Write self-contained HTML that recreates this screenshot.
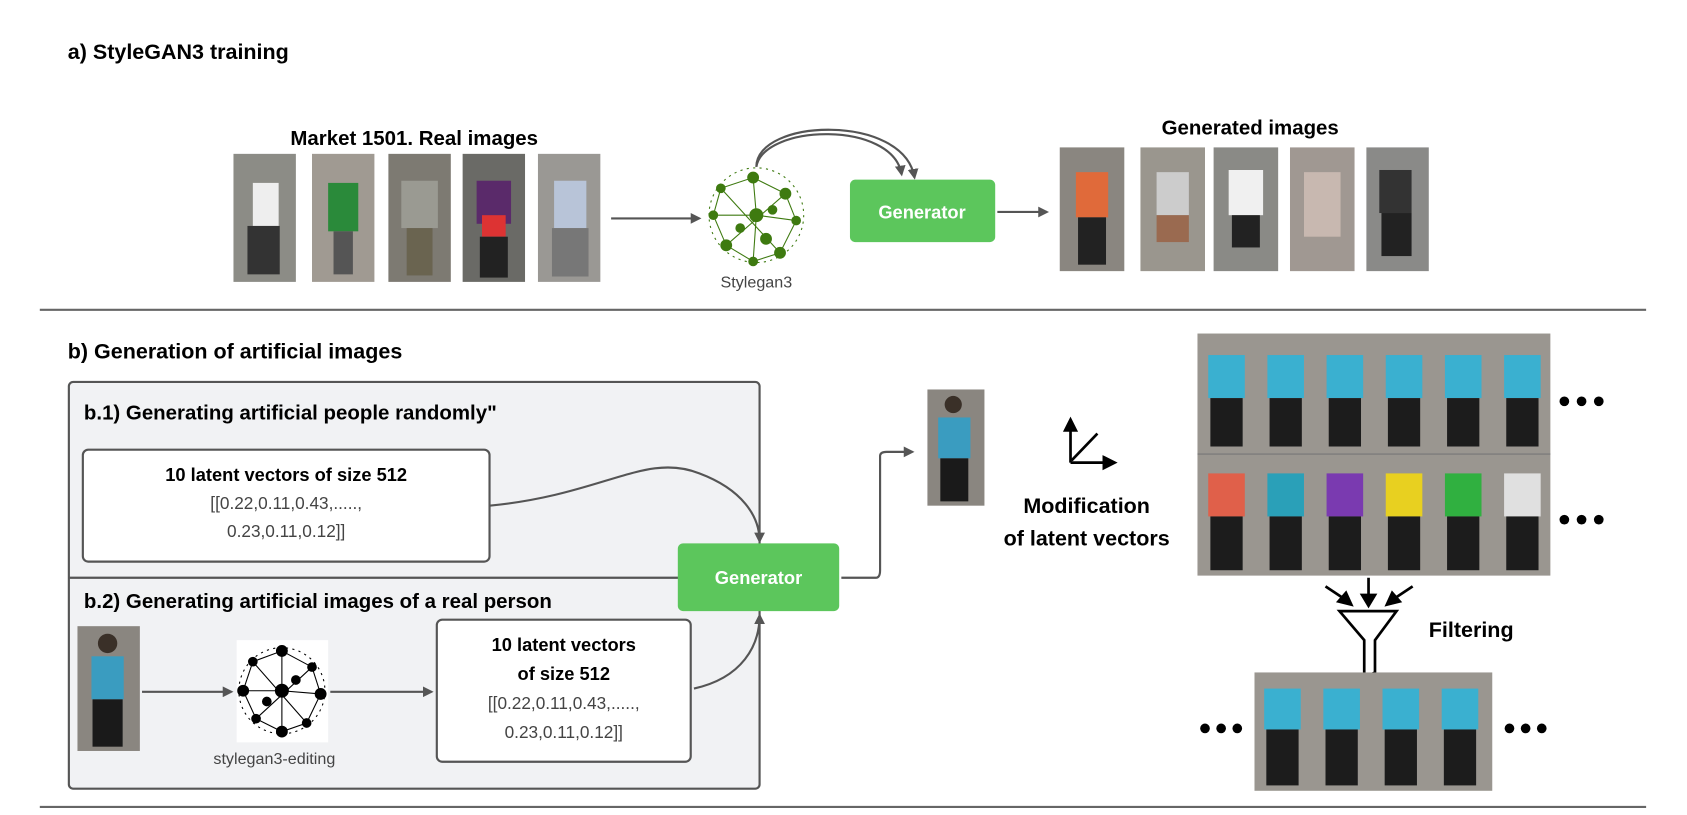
<!DOCTYPE html>
<html><head><meta charset="utf-8"><style>
html,body{margin:0;padding:0;background:#fff;}
svg{display:block;}
text{font-family:"Liberation Sans",sans-serif;}
.b{font-weight:bold;}
</style></head><body>
<svg width="1687" height="815" viewBox="0 0 1568 757.5" preserveAspectRatio="none" xmlns="http://www.w3.org/2000/svg">
<defs>
<marker id="ar" markerWidth="10" markerHeight="10" refX="8" refY="5" orient="auto" markerUnits="userSpaceOnUse"><path d="M0,0 L10,5 L0,10 z" fill="#555"/></marker>
<g id="p">
<rect x="0" y="0" width="58" height="118" fill="#9a9690"/>
<rect x="16" y="30" width="26" height="38" fill="VAR"/>
<circle cx="29" cy="20" r="9" fill="#3a3028"/>
<rect x="18" y="68" width="9" height="44" fill="#222"/>
<rect x="31" y="68" width="9" height="44" fill="#222"/>
</g>
</defs>
<rect width="1568" height="758" fill="#fff"/>
<text x="63" y="55" class="b" font-size="20">a) StyleGAN3 training</text>
<text x="385" y="135" class="b" font-size="19" text-anchor="middle">Market 1501. Real images</text>
<g>
<rect x="217" y="143" width="58" height="119" fill="#8c8c86"/><rect x="235" y="170" width="24" height="40" fill="#eee"/><rect x="230" y="210" width="30" height="45" fill="#333"/>
<rect x="290" y="143" width="58" height="119" fill="#a09a92"/><rect x="305" y="170" width="28" height="45" fill="#2a8a3a"/><rect x="310" y="215" width="18" height="40" fill="#555"/>
<rect x="361" y="143" width="58" height="119" fill="#7d7a72"/><rect x="373" y="168" width="34" height="44" fill="#9a9a92"/><rect x="378" y="212" width="24" height="44" fill="#6a6450"/>
<rect x="430" y="143" width="58" height="119" fill="#6a6a66"/><rect x="443" y="168" width="32" height="40" fill="#5a2a6a"/><rect x="448" y="200" width="22" height="20" fill="#d33"/><rect x="446" y="220" width="26" height="38" fill="#222"/>
<rect x="500" y="143" width="58" height="119" fill="#9a9894"/><rect x="515" y="168" width="30" height="44" fill="#b8c4d8"/><rect x="513" y="212" width="34" height="45" fill="#777"/>
</g>
<line x1="568" y1="203" x2="650" y2="203" stroke="#555" stroke-width="2" marker-end="url(#ar)"/>
<g fill="#3e7a10" stroke="#3e7a10" stroke-width="1">
<circle cx="703" cy="200" r="44" fill="none" stroke-dasharray="2 4"/>
<path d="M670,175 L700,165 L730,180 L740,205 L725,235 L700,243 L675,228 L663,200 Z M700,165 L703,200 L740,205 M663,200 L703,200 L700,243 M670,175 L725,235 M730,180 L675,228" fill="none"/>
<circle cx="700" cy="165" r="5"/><circle cx="730" cy="180" r="5"/><circle cx="740" cy="205" r="4"/><circle cx="725" cy="235" r="5"/><circle cx="700" cy="243" r="4"/><circle cx="675" cy="228" r="5"/><circle cx="663" cy="200" r="4"/><circle cx="670" cy="175" r="4"/><circle cx="703" cy="200" r="6"/><circle cx="718" cy="195" r="4"/><circle cx="688" cy="212" r="4"/><circle cx="712" cy="222" r="5"/>
</g>
<text x="703" y="267" font-size="15" fill="#444" text-anchor="middle">Stylegan3</text>
<path d="M703,155 C703,110 840,105 850,165" fill="none" stroke="#555" stroke-width="2" marker-end="url(#ar)"/>
<path d="M703,155 C710,115 830,112 838,162" fill="none" stroke="#555" stroke-width="2" marker-end="url(#ar)"/>
<rect x="790" y="167" width="135" height="58" rx="5" fill="#5cc65c"/>
<text x="857" y="203" class="b" font-size="17" fill="#fff" text-anchor="middle">Generator</text>
<line x1="927" y1="197" x2="973" y2="197" stroke="#555" stroke-width="2" marker-end="url(#ar)"/>
<text x="1162" y="125" class="b" font-size="19" text-anchor="middle">Generated images</text>
<g>
<rect x="985" y="137" width="60" height="115" fill="#8a8680"/><rect x="1000" y="160" width="30" height="42" fill="#e06a3a"/><rect x="1002" y="202" width="26" height="44" fill="#222"/>
<rect x="1060" y="137" width="60" height="115" fill="#9a968e"/><rect x="1075" y="160" width="30" height="40" fill="#ccc"/><rect x="1075" y="200" width="30" height="25" fill="#9a6a50"/>
<rect x="1128" y="137" width="60" height="115" fill="#8a8a86"/><rect x="1142" y="158" width="32" height="42" fill="#f0f0f0"/><rect x="1145" y="200" width="26" height="30" fill="#222"/>
<rect x="1199" y="137" width="60" height="115" fill="#a09892"/><rect x="1212" y="160" width="34" height="60" fill="#c8b8b0"/>
<rect x="1270" y="137" width="58" height="115" fill="#8a8a88"/><rect x="1282" y="158" width="30" height="40" fill="#333"/><rect x="1284" y="198" width="28" height="40" fill="#222"/>
</g>
<line x1="37" y1="288" x2="1530" y2="288" stroke="#666" stroke-width="2"/>
<text x="63" y="333" class="b" font-size="20">b) Generation of artificial images</text>
<rect x="64" y="355" width="642" height="378" rx="4" fill="#f1f2f4" stroke="#555" stroke-width="2"/>
<line x1="64" y1="537" x2="706" y2="537" stroke="#555" stroke-width="2"/>
<text x="78" y="390" class="b" font-size="19">b.1) Generating artificial people randomly"</text>
<rect x="77" y="418" width="378" height="104" rx="5" fill="#fff" stroke="#555" stroke-width="2"/>
<text x="266" y="447" class="b" font-size="17" text-anchor="middle">10 latent vectors of size 512</text>
<text x="266" y="473" font-size="16" fill="#444" text-anchor="middle">[[0.22,0.11,0.43,.....,</text>
<text x="266" y="499" font-size="16" fill="#444" text-anchor="middle">0.23,0.11,0.12]]</text>
<path d="M455,470 C560,460 600,420 650,440 C690,455 706,480 706,503" fill="none" stroke="#555" stroke-width="2" marker-end="url(#ar)"/>
<text x="78" y="565" class="b" font-size="19">b.2) Generating artificial images of a real person</text>
<rect x="630" y="505" width="150" height="63" rx="5" fill="#5cc65c"/>
<text x="705" y="543" class="b" font-size="17" fill="#fff" text-anchor="middle">Generator</text>
<rect x="72" y="582" width="58" height="116" fill="#8a8680"/><rect x="85" y="610" width="30" height="40" fill="#3a9cc0"/><rect x="86" y="650" width="28" height="44" fill="#1a1a1a"/><circle cx="100" cy="598" r="9" fill="#3a3028"/>
<line x1="132" y1="643" x2="215" y2="643" stroke="#555" stroke-width="2" marker-end="url(#ar)"/>
<rect x="220" y="595" width="85" height="95" fill="#fff"/>
<g fill="#000" stroke="#000" stroke-width="1">
<circle cx="262" cy="642" r="40" fill="none" stroke-dasharray="2 4"/>
<path d="M235,615 L262,605 L290,620 L298,645 L285,672 L262,680 L238,668 L226,642 Z M262,605 L262,642 L298,645 M226,642 L262,642 L262,680 M235,615 L285,672 M290,620 L238,668" fill="none"/>
<circle cx="262" cy="605" r="5"/><circle cx="290" cy="620" r="4"/><circle cx="298" cy="645" r="5"/><circle cx="285" cy="672" r="4"/><circle cx="262" cy="680" r="5"/><circle cx="238" cy="668" r="4"/><circle cx="226" cy="642" r="5"/><circle cx="235" cy="615" r="4"/><circle cx="262" cy="642" r="6"/><circle cx="275" cy="632" r="4"/><circle cx="248" cy="652" r="4"/>
</g>
<text x="255" y="710" font-size="15" fill="#444" text-anchor="middle">stylegan3-editing</text>
<line x1="307" y1="643" x2="401" y2="643" stroke="#555" stroke-width="2" marker-end="url(#ar)"/>
<rect x="406" y="576" width="236" height="132" rx="5" fill="#fff" stroke="#555" stroke-width="2"/>
<text x="524" y="605" class="b" font-size="17" text-anchor="middle">10 latent vectors</text>
<text x="524" y="632" class="b" font-size="17" text-anchor="middle">of size 512</text>
<text x="524" y="659" font-size="16" fill="#444" text-anchor="middle">[[0.22,0.11,0.43,.....,</text>
<text x="524" y="686" font-size="16" fill="#444" text-anchor="middle">0.23,0.11,0.12]]</text>
<path d="M645,640 C690,630 706,600 706,572" fill="none" stroke="#555" stroke-width="2" marker-end="url(#ar)"/>
<path d="M782,537 L814,537 Q818,537 818,530 L818,424 Q818,420 824,420 L848,420" fill="none" stroke="#555" stroke-width="2" marker-end="url(#ar)"/>
<rect x="862" y="362" width="53" height="108" fill="#8a8680"/><rect x="872" y="388" width="30" height="38" fill="#3a9cc0"/><rect x="874" y="426" width="26" height="40" fill="#1a1a1a"/><circle cx="886" cy="376" r="8" fill="#3a3028"/>
<g stroke="#000" stroke-width="2.5" fill="#000">
<line x1="995" y1="398" x2="995" y2="430"/><path d="M990,400 L995,390 L1000,400 z"/>
<line x1="995" y1="430" x2="1028" y2="430"/><path d="M1026,425 L1036,430 L1026,435 z"/>
<line x1="996" y1="428" x2="1020" y2="403"/>
</g>
<text x="1010" y="477" class="b" font-size="20" text-anchor="middle">Modification</text>
<text x="1010" y="507" class="b" font-size="20" text-anchor="middle">of latent vectors</text>
<rect x="1113" y="310" width="328" height="225" fill="#9a9690"/>
<g>
<rect x="1123" y="330" width="34" height="40" fill="#3ab0d0"/><rect x="1178" y="330" width="34" height="40" fill="#3ab0d0"/><rect x="1233" y="330" width="34" height="40" fill="#3ab0d0"/><rect x="1288" y="330" width="34" height="40" fill="#3ab0d0"/><rect x="1343" y="330" width="34" height="40" fill="#3ab0d0"/><rect x="1398" y="330" width="34" height="40" fill="#3ab0d0"/>
<rect x="1123" y="440" width="34" height="40" fill="#e0604a"/><rect x="1178" y="440" width="34" height="40" fill="#2aa0b8"/><rect x="1233" y="440" width="34" height="40" fill="#7a3ab0"/><rect x="1288" y="440" width="34" height="40" fill="#e8d020"/><rect x="1343" y="440" width="34" height="40" fill="#30b040"/><rect x="1398" y="440" width="34" height="40" fill="#e0e0e0"/>
<g fill="#1c1c1c"><rect x="1125" y="370" width="30" height="45"/><rect x="1180" y="370" width="30" height="45"/><rect x="1235" y="370" width="30" height="45"/><rect x="1290" y="370" width="30" height="45"/><rect x="1345" y="370" width="30" height="45"/><rect x="1400" y="370" width="30" height="45"/>
<rect x="1125" y="480" width="30" height="50"/><rect x="1180" y="480" width="30" height="50"/><rect x="1235" y="480" width="30" height="50"/><rect x="1290" y="480" width="30" height="50"/><rect x="1345" y="480" width="30" height="50"/><rect x="1400" y="480" width="30" height="50"/></g>
</g>
<line x1="1113" y1="422" x2="1441" y2="422" stroke="#777" stroke-width="1"/>
<g fill="#000"><circle cx="1454" cy="373" r="4.5"/><circle cx="1470" cy="373" r="4.5"/><circle cx="1486" cy="373" r="4.5"/>
<circle cx="1454" cy="483" r="4.5"/><circle cx="1470" cy="483" r="4.5"/><circle cx="1486" cy="483" r="4.5"/>
<circle cx="1120" cy="677" r="4.5"/><circle cx="1135" cy="677" r="4.5"/><circle cx="1150" cy="677" r="4.5"/>
<circle cx="1403" cy="677" r="4.5"/><circle cx="1418" cy="677" r="4.5"/><circle cx="1433" cy="677" r="4.5"/></g>
<g stroke="#000" stroke-width="2.5" fill="#000">
<line x1="1272" y1="537" x2="1272" y2="556"/><path d="M1266,553 L1272,563 L1278,553 z"/>
<line x1="1232" y1="545" x2="1250" y2="557"/><path d="M1244,559 L1256,562 L1251,551 z"/>
<line x1="1313" y1="545" x2="1295" y2="557"/><path d="M1301,559 L1289,562 L1294,551 z"/>
</g>
<path d="M1245,568 L1298,568 L1278,595 L1278,625 L1268,630 L1268,595 Z" fill="#fff" stroke="#000" stroke-width="2.5"/>
<text x="1328" y="592" class="b" font-size="20">Filtering</text>
<rect x="1166" y="625" width="221" height="110" fill="#9a9690"/>
<g><rect x="1175" y="640" width="34" height="38" fill="#3ab0d0"/><rect x="1230" y="640" width="34" height="38" fill="#3ab0d0"/><rect x="1285" y="640" width="34" height="38" fill="#3ab0d0"/><rect x="1340" y="640" width="34" height="38" fill="#3ab0d0"/>
<g fill="#1c1c1c"><rect x="1177" y="678" width="30" height="52"/><rect x="1232" y="678" width="30" height="52"/><rect x="1287" y="678" width="30" height="52"/><rect x="1342" y="678" width="30" height="52"/></g></g>
<line x1="37" y1="750" x2="1530" y2="750" stroke="#666" stroke-width="2"/>
</svg>
</body></html>
